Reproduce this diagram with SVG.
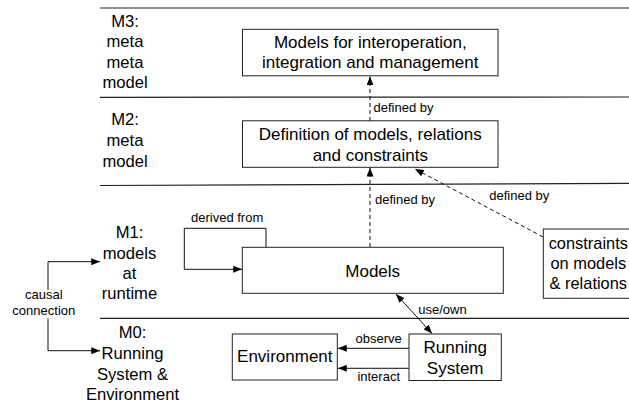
<svg xmlns="http://www.w3.org/2000/svg" width="629" height="406" viewBox="0 0 629 406">
<style>
text{font-family:"Liberation Sans",Arial,Helvetica,sans-serif;fill:#000}
.big{font-size:17px}
.lbl{font-size:16.6px;text-anchor:middle}
.sm{font-size:13px}
.box{fill:#fff;stroke:#222;stroke-width:1}
.sep{stroke:#222;stroke-width:1.2;fill:none}
.ln{stroke:#111;stroke-width:1;fill:none}
.dash{stroke:#111;stroke-width:1;fill:none;stroke-dasharray:4 3}
</style>
<defs>
<marker id="ah" viewBox="0 0 10 8" refX="10" refY="4" markerWidth="9" markerHeight="7" markerUnits="userSpaceOnUse" orient="auto-start-reverse">
<path d="M0,0 L10,4 L0,8 z" fill="#000"/>
</marker>
</defs>
<g id="layers">
<line class="sep" x1="100" y1="8" x2="629" y2="8"/>
<line class="sep" x1="100" y1="97.3" x2="629" y2="97"/>
<line class="sep" x1="100" y1="185.5" x2="629" y2="183.3"/>
<line class="sep" x1="100" y1="318.3" x2="629" y2="318.3"/>
</g>
<g id="layer-labels">
<text class="lbl" x="125" y="26.7">M3:</text>
<text class="lbl" x="125" y="47">meta</text>
<text class="lbl" x="125" y="67.5">meta</text>
<text class="lbl" x="125" y="87.5">model</text>
<text class="lbl" x="125" y="125">M2:</text>
<text class="lbl" x="125" y="145.7">meta</text>
<text class="lbl" x="125" y="166.5">model</text>
<text class="lbl" x="129.5" y="238.3">M1:</text>
<text class="lbl" x="129.5" y="259">models</text>
<text class="lbl" x="129.5" y="279">at</text>
<text class="lbl" x="129.5" y="299.3">runtime</text>
<text class="lbl" x="132.5" y="338.3">M0:</text>
<text class="lbl" x="132.5" y="359.3">Running</text>
<text class="lbl" x="132.5" y="380">System &amp;</text>
<text class="lbl" x="132.5" y="400">Environment</text>
</g>
<g id="connectors">
<line class="dash" x1="370" y1="121" x2="370" y2="76.5" marker-end="url(#ah)"/>
<line class="dash" x1="370" y1="247" x2="370" y2="167.8" marker-end="url(#ah)"/>
<line class="dash" x1="543" y1="237" x2="415" y2="169" marker-end="url(#ah)"/>
<line class="ln" x1="396" y1="294" x2="432" y2="333.5" marker-start="url(#ah)" marker-end="url(#ah)"/>
<line class="ln" x1="409" y1="348.3" x2="338" y2="348.3" marker-end="url(#ah)"/>
<line class="ln" x1="409" y1="368.3" x2="338" y2="368.3" marker-end="url(#ah)"/>
<path class="ln" d="M266,247 V228.3 H184.3 V269.3 H242" marker-end="url(#ah)"/>
<path class="ln" d="M48,290 V261.7 H100" marker-end="url(#ah)"/>
<path class="ln" d="M48,318.5 V350.7 H100" marker-end="url(#ah)"/>
<text class="sm" x="373.5" y="112">defined by</text>
<text class="sm" x="375" y="204.3">defined by</text>
<text class="sm" x="489.3" y="200">defined by</text>
<text class="sm" x="191" y="221.7">derived from</text>
<text class="sm" x="43.8" y="299.3" text-anchor="middle">causal</text>
<text class="sm" x="43.8" y="315" text-anchor="middle">connection</text>
<text class="sm" x="418.3" y="314.3">use/own</text>
<text class="sm" x="378.7" y="342.7" text-anchor="middle">observe</text>
<text class="sm" x="378.7" y="381" text-anchor="middle">interact</text>
</g>
<g id="node-m3">
<rect class="box" x="242.5" y="29.3" width="255.5" height="46.5"/>
<text class="big" x="370.3" y="47.7" text-anchor="middle">Models for interoperation,</text>
<text class="big" x="370.3" y="68.3" text-anchor="middle">integration and management</text>
</g>
<g id="node-m2">
<rect class="box" x="242.5" y="120.8" width="255.5" height="46.5"/>
<text class="big" x="370.3" y="140" text-anchor="middle">Definition of models, relations</text>
<text class="big" x="370.3" y="161" text-anchor="middle">and constraints</text>
</g>
<g id="node-models">
<rect class="box" x="242.3" y="247.3" width="261" height="46"/>
<text class="big" x="372.7" y="276.7" text-anchor="middle">Models</text>
</g>
<g id="node-constraints">
<rect class="box" x="543.3" y="229" width="93" height="69.3"/>
<text x="588.3" y="249" text-anchor="middle" style="font-size:16.4px">constraints</text>
<text x="588.3" y="269" text-anchor="middle" style="font-size:16.4px">on models</text>
<text x="588.3" y="288.5" text-anchor="middle" style="font-size:16.4px">&amp; relations</text>
</g>
<g id="node-environment">
<rect class="box" x="232.3" y="334" width="105" height="46"/>
<text class="big" x="284.8" y="362.3" text-anchor="middle">Environment</text>
</g>
<g id="node-running">
<rect class="box" x="409" y="334" width="92.3" height="46.5"/>
<text class="big" x="455.2" y="353.3" text-anchor="middle">Running</text>
<text class="big" x="455.2" y="374" text-anchor="middle">System</text>
</g>
</svg>
